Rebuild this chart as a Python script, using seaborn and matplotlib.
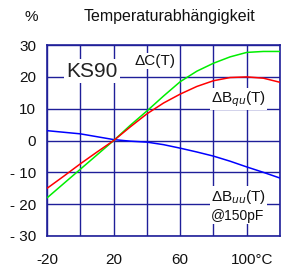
import matplotlib
matplotlib.use("Agg")
import matplotlib.pyplot as plt
import matplotlib.transforms as mtrans
import pandas as pd
import seaborn as sns

# Werte
temp = [-20, -10, 0, 10, 20, 30, 40, 50, 60, 70, 80, 90, 100, 110, 120]
d_c = [-18, -13.5, -9, -4.5, 0, 4.8, 9.3, 14, 18.5, 21.8, 24.3, 26.3, 27.7, 28, 28]
d_bqu = [-15, -11.2, -7.3, -3.6, 0, 4.3, 8.4, 11.8, 14.6, 17, 18.8, 19.8, 20, 19.6, 18.3]
d_buu = [3.1, 2.6, 2.1, 1.2, 0.3, -0.2, -0.5, -1.3, -2.4, -3.6, -4.9, -6.5, -8.3, -10, -11.8]

x_ticks = [-20, 20, 60, 100]
x_labels = ["-20", "20", "60", "100°C"]
y_ticks = [-30, -20, -10, 0, 10, 20, 30]
y_labels = ["- 30", "- 20", "- 10", "0", "10", "20", "30"]

sns.set_style("white")
plt.rcParams["font.family"] = ["Liberation Sans", "DejaVu Sans"]

NAVY = "#1f1f99"

df = pd.DataFrame({"T": temp, "C": d_c, "Bqu": d_bqu, "Buu": d_buu})

fig = plt.figure(figsize=(2.84, 2.70), dpi=100)
ax = fig.add_axes([0.166, 0.126, 0.820, 0.707])

sns.lineplot(data=df, x="T", y="Buu", ax=ax, color="#0000ff", lw=1.1, zorder=3)
sns.lineplot(data=df, x="T", y="C", ax=ax, color="#00ee00", lw=1.1, zorder=3)
sns.lineplot(data=df, x="T", y="Bqu", ax=ax, color="#ff0000", lw=1.1, zorder=4)

ax.set_xlim(-20, 120)
ax.set_ylim(-30, 30)
ax.set_xticks(range(-20, 121, 20), minor=True)
ax.set_xticks(x_ticks)
ax.set_xticklabels(x_labels)
ax.set_yticks(y_ticks)
ax.set_yticklabels(y_labels)
ax.grid(True, which="both", axis="x", color=NAVY, lw=1.0)
ax.grid(True, which="major", axis="y", color=NAVY, lw=1.0)
ax.set_axisbelow(True)
ax.tick_params(which="both", length=0, labelsize=11, colors="#111111")
ax.tick_params(axis="x", pad=12)
ax.tick_params(axis="y", pad=8)
ax.set_xlabel("")
ax.set_ylabel("")
for s in ax.spines.values():
    s.set_color(NAVY)
    s.set_linewidth(1.2)

lbl = ax.get_xticklabels()[-1]
lbl.set_ha("left")
lbl.set_transform(lbl.get_transform() + mtrans.ScaledTranslation(-0.16, 0, fig.dpi_scale_trans))

box = dict(facecolor="white", edgecolor="none", pad=1.0)
ax.text(-8.5, 21.8, "KS90", fontsize=15, va="center", ha="left", color="#222222",
        bbox=dict(facecolor="white", edgecolor="none", pad=2.0), zorder=5)
ax.text(32.5, 25, "ΔC(T)", fontsize=11, va="center", ha="left", color="#111111",
        bbox=box, zorder=5)
ax.text(78.5, 13, r"ΔB$_{qu}$(T)", fontsize=11, va="center", ha="left", color="#111111",
        bbox=box, zorder=5)
ax.text(78.5, -17.7, r"ΔB$_{uu}$(T)", fontsize=11, va="center", ha="left", color="#111111",
        bbox=box, zorder=5)
ax.text(78.5, -23.6, "@150pF", fontsize=10, va="center", ha="left", color="#111111",
        bbox=box, zorder=5)

fig.text(31 / 284, 1 - 17 / 270, "%", fontsize=11, ha="center", va="center", color="#111111")
fig.text(170 / 284, 1 - 16 / 270, "Temperaturabhängigkeit", fontsize=11.5, ha="center",
         va="center", color="#111111")

fig.savefig("out.png", dpi=100)
